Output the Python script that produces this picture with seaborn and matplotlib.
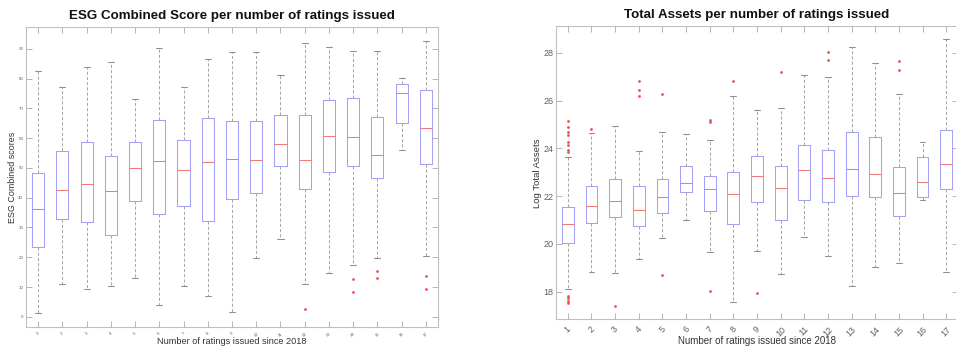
import numpy as np
import pandas as pd
import matplotlib
matplotlib.use("Agg")
import matplotlib.pyplot as plt
import seaborn as sns

# Number of ratings issued since 2018 (group labels)
groups = [str(i) for i in range(1, 18)]

# ESG Combined scores: five-number summaries per group
esg_low = [1.3, 11.1, 9.4, 10.5, 12.9, 4.1, 10.4, 7.1, 1.7, 19.7, 26.2, 10.9, 14.8, 17.5, 19.9, 55.9, 20.5]
esg_q1 = [23.4, 32.7, 31.7, 27.6, 38.9, 34.6, 37.1, 32.1, 39.6, 41.5, 50.5, 43.0, 48.5, 50.8, 46.6, 65.2, 51.4]
esg_med = [36.1, 42.7, 44.5, 42.1, 50.0, 52.3, 49.2, 51.9, 53.1, 52.8, 57.9, 52.7, 60.7, 60.4, 54.4, 75.2, 63.3]
esg_q3 = [48.2, 55.7, 58.8, 54.1, 58.8, 66.0, 59.3, 66.9, 65.8, 65.8, 67.8, 67.8, 72.9, 73.4, 67.0, 78.0, 76.1]
esg_high = [82.5, 77.3, 83.8, 85.5, 73.0, 90.3, 77.1, 86.4, 88.8, 88.9, 81.3, 91.8, 90.6, 89.1, 89.2, 80.2, 92.7]
esg_out_group = ["12", "14", "14", "15", "15", "17", "17"]
esg_out_value = [2.8, 12.6, 8.4, 15.5, 13.2, 13.7, 9.3]

# Log Total Assets: five-number summaries per group
ta_low = [18.13, 18.82, 18.79, 19.39, 20.25, 21.00, 19.65, 17.58, 19.69, 18.73, 20.30, 19.49, 18.24, 19.05, 19.20, 21.86, 18.82]
ta_q1 = [20.06, 20.86, 21.11, 20.76, 21.28, 22.16, 21.36, 20.83, 21.74, 21.00, 21.84, 21.75, 21.99, 21.96, 21.15, 21.97, 22.28]
ta_med = [20.82, 21.57, 21.79, 21.40, 21.95, 22.57, 22.28, 22.07, 22.85, 22.35, 23.09, 22.76, 23.13, 22.94, 22.14, 22.60, 23.36]
ta_q3 = [21.56, 22.42, 22.71, 22.44, 22.71, 23.26, 22.83, 23.01, 23.70, 23.26, 24.16, 23.93, 24.67, 24.49, 23.23, 23.65, 24.78]
ta_high = [23.65, 24.65, 24.93, 23.89, 24.67, 24.60, 24.35, 26.19, 25.59, 25.68, 27.05, 26.99, 28.25, 27.58, 26.26, 24.26, 28.57]
ta_out_group = ["1"] * 12 + ["2", "3", "4", "4", "4", "5", "5", "7", "7", "7", "8", "9", "10",
                             "12", "12", "15", "15"]
ta_out_value = [25.15, 24.90, 24.69, 24.55, 24.25, 24.14, 23.93, 23.83, 17.83, 17.72, 17.62, 17.54,
                24.79, 17.41, 26.81, 26.44, 26.19, 26.27, 18.70, 25.18, 25.09, 18.04, 26.81, 17.96, 27.18,
                28.04, 27.68, 27.65, 27.26]


def summary_frame(low, q1, med, q3, high):
    rows = []
    for g, vals in zip(groups, zip(low, q1, med, q3, high)):
        for v in vals:
            rows.append((g, v))
    return pd.DataFrame(rows, columns=["n", "v"])


sns.set_theme(style="white")
plt.rcParams["font.family"] = ["Liberation Sans", "DejaVu Sans"]

BOX = "#a2a2f8"
MED = "#f07a7a"
WHISK = "#a8a8a8"
SPINE = "#c0c0c0"

fig = plt.figure(figsize=(9.56, 3.49), dpi=100)
ax1 = fig.add_axes([26 / 956, 22 / 349, 412 / 956, 300 / 349])
ax2 = fig.add_axes([556 / 956, 30 / 349, 402 / 956, 293 / 349])


def draw_panel(ax, frame, out_g, out_v, ylim, yticks, tick_fs, xpad):
    sns.boxplot(
        data=frame, x="n", y="v", order=groups, whis=(0, 100), fill=False,
        width=0.5, linewidth=0.75, showfliers=False, ax=ax,
        boxprops={"color": BOX},
        medianprops={"color": MED},
        whiskerprops={"color": WHISK, "linestyle": (0, (3, 2))},
        capprops={"color": "#8f8f8f"},
    )
    sns.stripplot(x=out_g, y=out_v, order=groups, jitter=False, ax=ax,
                  color="#ee5050", size=2.0, linewidth=0, marker="o")
    ax.set_xlim(-0.5, 16.5)
    ax.set_ylim(*ylim)
    ax.set_yticks(yticks)
    ax.set_xlabel("")
    ax.set_ylabel("")
    for s in ax.spines.values():
        s.set_visible(True)
        s.set_color(SPINE)
        s.set_linewidth(0.8)
    ax.tick_params(direction="in", length=4, width=0.6, color="#a8a8a8",
                   top=True, right=True, bottom=True, left=True,
                   labelsize=tick_fs, labelcolor="#606060", pad=2)
    ax.tick_params(axis="x", pad=xpad)
    for lab in ax.get_xticklabels():
        lab.set_rotation(45)
        lab.set_rotation_mode("default")
        lab.set_ha("center")
        lab.set_va("top")
    ax.grid(False)


draw_panel(ax1, summary_frame(esg_low, esg_q1, esg_med, esg_q3, esg_high),
           esg_out_group, esg_out_value, (-3.4, 97.3), list(range(0, 100, 10)), 3.2, 3)
draw_panel(ax2, summary_frame(ta_low, ta_q1, ta_med, ta_q3, ta_high),
           ta_out_group, ta_out_value, (16.86, 29.12), list(range(18, 30, 2)), 6.5, 4)

fig.text(232 / 956, 1 - 16 / 349, "ESG Combined Score per number of ratings issued",
         ha="center", va="center", fontsize=9.6, fontweight="bold", color="#111111")
fig.text(757 / 956, 1 - 15 / 349, "Total Assets per number of ratings issued",
         ha="center", va="center", fontsize=9.6, fontweight="bold", color="#111111")
fig.text(232 / 956, 1 - 341.5 / 349, "Number of ratings issued since 2018",
         ha="center", va="center", fontsize=6.6, color="#333333")
fig.text(757 / 956, 1 - 341 / 349, "Number of ratings issued since 2018",
         ha="center", va="center", fontsize=7.0, color="#333333")
fig.text(13 / 956, 1 - 177 / 349, "ESG Combined scores", rotation=90,
         ha="center", va="center", fontsize=6.4, color="#333333")
fig.text(538 / 956, 1 - 173 / 349, "Log Total Assets", rotation=90,
         ha="center", va="center", fontsize=6.8, color="#333333")

fig.savefig("out.png", dpi=100, facecolor="white")
